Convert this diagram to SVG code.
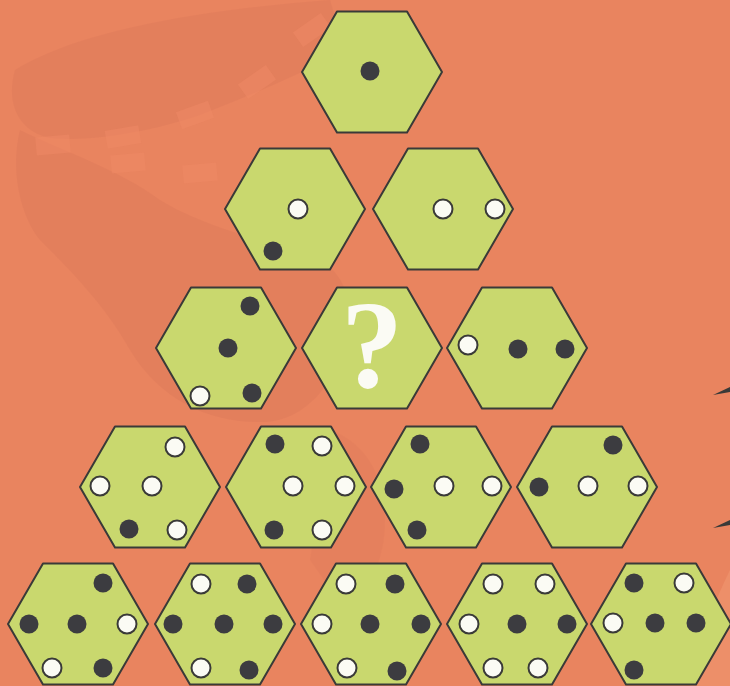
<svg xmlns="http://www.w3.org/2000/svg" xmlns:xlink="http://www.w3.org/1999/xlink" width="730" height="686" viewBox="0 0 730 686">
  <style>
    .hex { fill: #C9D86E; stroke: #3a3a38; stroke-width: 2; stroke-linejoin: round; }
    .b { fill: #3c3c40; }
    .w { fill: #fbfbf4; stroke: #3a3a38; stroke-width: 2; }
    .q { font-family: "Liberation Serif", "DejaVu Serif", serif; font-weight: bold; font-size: 124px; fill: #fbfbf4; text-anchor: middle; }
    .dec { fill: #f08a66; opacity: 0.5; }
  </style>
  <defs>
    <polygon id="hx" class="hex" points="-70,0 -35,-60.6 35,-60.6 70,0 35,60.6 -35,60.6"/>
  </defs>
  <!-- background -->
  <rect x="0" y="0" width="730" height="686" fill="#E9845F"/>
  <g id="background" fill="#D9775A" opacity="0.35">
    <path d="M15,70 C80,30 200,10 330,0 L345,50 C300,75 250,95 200,115 C150,132 90,142 50,138 C20,132 5,105 15,70 Z"/>
    <path d="M20,130 C60,150 120,170 160,200 C200,225 260,240 310,255 C345,270 355,300 345,340 C335,385 305,420 265,422 C210,424 160,400 130,350 C105,305 70,270 40,240 C20,215 10,170 20,130 Z"/>
    <path d="M330,430 C360,440 385,470 385,520 C385,560 370,590 345,610 L310,560 C318,520 310,470 330,430 Z" opacity="0.6"/>
  </g>
  <path d="M690,686 C700,640 715,600 730,570 L730,686 Z" fill="#F09670" opacity="0.6"/>
  <g id="decor">
    <rect class="dec" x="-17" y="-9" width="34" height="18" transform="translate(312,30) rotate(-35)"/>
    <rect class="dec" x="-17" y="-9" width="34" height="18" transform="translate(257,82) rotate(-35)"/>
    <rect class="dec" x="-17" y="-9" width="34" height="18" transform="translate(195,115) rotate(-20)"/>
    <rect class="dec" x="-17" y="-9" width="34" height="18" transform="translate(123,137) rotate(-10)"/>
    <rect class="dec" x="-17" y="-9" width="34" height="18" transform="translate(53,145) rotate(-5)"/>
    <rect class="dec" x="-17" y="-9" width="34" height="18" transform="translate(128,163) rotate(-5)"/>
    <rect class="dec" x="-17" y="-9" width="34" height="18" transform="translate(200,173) rotate(-5)"/>
    <polygon points="713,395 730,387 730,392" fill="#3a3a38"/>
    <polygon points="713,528 730,520 730,525" fill="#3a3a38"/>
  </g>

  <g id="connectors"></g>

  <!-- Row 1 -->
  <g id="hex-1-1" transform="translate(372,72)">
    <use xlink:href="#hx" href="#hx"/>
    <circle class="b" cx="-2" cy="-1" r="9.5"/>
  </g>
  <!-- Row 2 -->
  <g id="hex-2-1" transform="translate(295,209)">
    <use xlink:href="#hx" href="#hx"/>
    <circle class="w" cx="3" cy="0" r="9.5"/>
    <circle class="b" cx="-22" cy="42" r="9.5"/>
  </g>
  <g id="hex-2-2" transform="translate(443,209)">
    <use xlink:href="#hx" href="#hx"/>
    <circle class="w" cx="0" cy="0" r="9.5"/>
    <circle class="w" cx="52" cy="0" r="9.5"/>
  </g>
  <!-- Row 3 -->
  <g id="hex-3-1" transform="translate(226,348)">
    <use xlink:href="#hx" href="#hx"/>
    <circle class="b" cx="24" cy="-42" r="9.5"/>
    <circle class="b" cx="2" cy="0" r="9.5"/>
    <circle class="w" cx="-26" cy="48" r="9.5"/>
    <circle class="b" cx="26" cy="45" r="9.5"/>
  </g>
  <g id="hex-3-2" transform="translate(372,348)">
    <use xlink:href="#hx" href="#hx"/>
    <text class="q" x="0" y="39">?</text>
  </g>
  <g id="hex-3-3" transform="translate(517,348)">
    <use xlink:href="#hx" href="#hx"/>
    <circle class="w" cx="-49" cy="-3" r="9.5"/>
    <circle class="b" cx="1" cy="1" r="9.5"/>
    <circle class="b" cx="48" cy="1" r="9.5"/>
  </g>
  <!-- Row 4 -->
  <g id="hex-4-1" transform="translate(150,487)">
    <use xlink:href="#hx" href="#hx"/>
    <circle class="w" cx="25" cy="-40" r="9.5"/>
    <circle class="w" cx="-50" cy="-1" r="9.5"/>
    <circle class="w" cx="2" cy="-1" r="9.5"/>
    <circle class="b" cx="-21" cy="42" r="9.5"/>
    <circle class="w" cx="27" cy="43" r="9.5"/>
  </g>
  <g id="hex-4-2" transform="translate(296,487)">
    <use xlink:href="#hx" href="#hx"/>
    <circle class="b" cx="-21" cy="-43" r="9.5"/>
    <circle class="w" cx="26" cy="-41" r="9.5"/>
    <circle class="w" cx="-3" cy="-1" r="9.5"/>
    <circle class="w" cx="49" cy="-1" r="9.5"/>
    <circle class="b" cx="-22" cy="43" r="9.5"/>
    <circle class="w" cx="26" cy="43" r="9.5"/>
  </g>
  <g id="hex-4-3" transform="translate(441,487)">
    <use xlink:href="#hx" href="#hx"/>
    <circle class="b" cx="-21" cy="-43" r="9.5"/>
    <circle class="b" cx="-47" cy="2" r="9.5"/>
    <circle class="w" cx="3" cy="-1" r="9.5"/>
    <circle class="w" cx="51" cy="-1" r="9.5"/>
    <circle class="b" cx="-24" cy="43" r="9.5"/>
  </g>
  <g id="hex-4-4" transform="translate(587,487)">
    <use xlink:href="#hx" href="#hx"/>
    <circle class="b" cx="26" cy="-42" r="9.5"/>
    <circle class="b" cx="-48" cy="0" r="9.5"/>
    <circle class="w" cx="1" cy="-1" r="9.5"/>
    <circle class="w" cx="51" cy="-1" r="9.5"/>
  </g>
  <!-- Row 5 -->
  <g id="hex-5-1" transform="translate(78,624)">
    <use xlink:href="#hx" href="#hx"/>
    <circle class="b" cx="25" cy="-41" r="9.5"/>
    <circle class="b" cx="-49" cy="0" r="9.5"/>
    <circle class="b" cx="-1" cy="0" r="9.5"/>
    <circle class="w" cx="49" cy="0" r="9.5"/>
    <circle class="w" cx="-26" cy="44" r="9.5"/>
    <circle class="b" cx="25" cy="44" r="9.5"/>
  </g>
  <g id="hex-5-2" transform="translate(225,624)">
    <use xlink:href="#hx" href="#hx"/>
    <circle class="w" cx="-24" cy="-40" r="9.5"/>
    <circle class="b" cx="22" cy="-40" r="9.5"/>
    <circle class="b" cx="-52" cy="0" r="9.5"/>
    <circle class="b" cx="-1" cy="0" r="9.5"/>
    <circle class="b" cx="48" cy="0" r="9.5"/>
    <circle class="w" cx="-24" cy="44" r="9.5"/>
    <circle class="b" cx="24" cy="46" r="9.5"/>
  </g>
  <g id="hex-5-3" transform="translate(371,624)">
    <use xlink:href="#hx" href="#hx"/>
    <circle class="w" cx="-25" cy="-40" r="9.5"/>
    <circle class="b" cx="24" cy="-40" r="9.5"/>
    <circle class="w" cx="-49" cy="0" r="9.5"/>
    <circle class="b" cx="-1" cy="0" r="9.5"/>
    <circle class="b" cx="50" cy="0" r="9.5"/>
    <circle class="w" cx="-24" cy="44" r="9.5"/>
    <circle class="b" cx="26" cy="47" r="9.5"/>
  </g>
  <g id="hex-5-4" transform="translate(517,624)">
    <use xlink:href="#hx" href="#hx"/>
    <circle class="w" cx="-24" cy="-40" r="9.5"/>
    <circle class="w" cx="28" cy="-40" r="9.5"/>
    <circle class="w" cx="-48" cy="0" r="9.5"/>
    <circle class="b" cx="0" cy="0" r="9.5"/>
    <circle class="b" cx="50" cy="0" r="9.5"/>
    <circle class="w" cx="-24" cy="44" r="9.5"/>
    <circle class="w" cx="21" cy="44" r="9.5"/>
  </g>
  <g id="hex-5-5" transform="translate(661,624)">
    <use xlink:href="#hx" href="#hx"/>
    <circle class="b" cx="-27" cy="-41" r="9.5"/>
    <circle class="w" cx="23" cy="-41" r="9.5"/>
    <circle class="w" cx="-48" cy="-1" r="9.5"/>
    <circle class="b" cx="-6" cy="-1" r="9.5"/>
    <circle class="b" cx="35" cy="-1" r="9.5"/>
    <circle class="b" cx="-27" cy="46" r="9.5"/>
  </g>
</svg>
